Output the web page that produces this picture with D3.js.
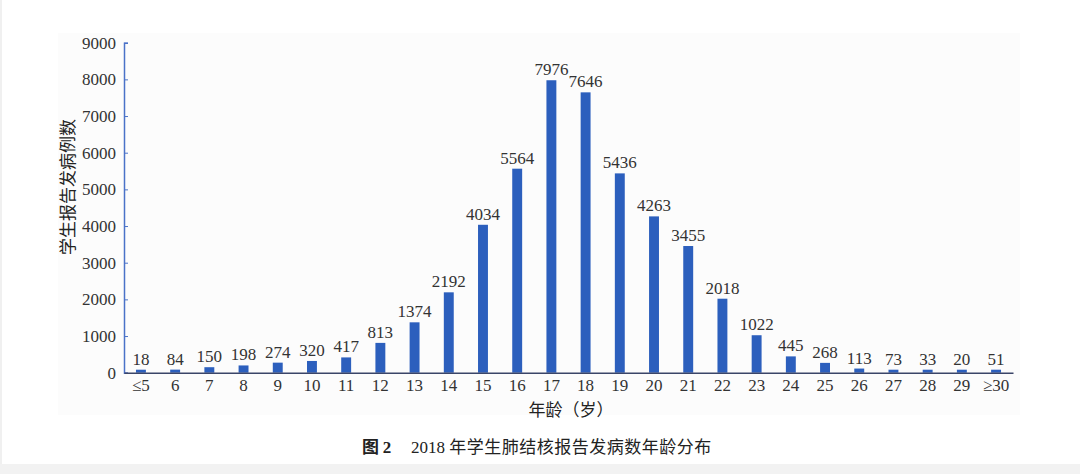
<!DOCTYPE html>
<html>
<head>
<meta charset="utf-8">
<script src="https://cdn.jsdelivr.net/npm/d3@7"></script>
<style>
  html, body { margin: 0; padding: 0; background: #fff; }
  svg { display: block; }
</style>
</head>
<body>
<div id="chart"></div>
<script>
// age groups and reported cases, 2018
const ages = ["≤5", "6", "7", "8", "9", "10", "11", "12", "13", "14", "15", "16", "17",
  "18", "19", "20", "21", "22", "23", "24", "25", "26", "27", "28", "29", "≥30"];
const cases = [18, 84, 150, 198, 274, 320, 417, 813, 1374, 2192, 4034, 5564, 7976,
  7646, 5436, 4263, 3455, 2018, 1022, 445, 268, 113, 73, 33, 20, 51];
const yTicks = [0, 1000, 2000, 3000, 4000, 5000, 6000, 7000, 8000, 9000];

const W = 1080, H = 474;
const SERIF = "'Liberation Serif', 'DejaVu Serif', serif";
const CJK = "'Noto Sans CJK SC', sans-serif";

const svg = d3.select("#chart")
  .append("svg")
  .attr("width", W)
  .attr("height", H);

// page backgrounds
svg.append("rect").attr("x", 58).attr("y", 33).attr("width", 962).attr("height", 382).attr("fill", "#fcfcfc");
svg.append("rect").attr("x", 0).attr("y", 0).attr("width", 2).attr("height", H).attr("fill", "#f0f0f0");
svg.append("rect").attr("x", 0).attr("y", 464).attr("width", W).attr("height", 10).attr("fill", "#f2f2f2");

let x = d3.scaleBand()
  .domain(ages)
  .range([124, 1013])
  .paddingInner(0.71)
  .paddingOuter(0.35);

let y = d3.scaleLinear()
  .domain([0, 9000])
  .range([372.7, 42.7]);

// bars (tiny values still show a sliver, as in the print)
svg.selectAll(".bar")
  .data(ages)
  .enter()
  .append("rect")
  .attr("class", "bar")
  .attr("x", (d) => x(d))
  .attr("width", x.bandwidth())
  .attr("y", (d, i) => Math.min(y(cases[i]), y(0) - 3))
  .attr("height", (d, i) => Math.max(y(0) - y(cases[i]), 3))
  .attr("fill", "#2c5fbd");

// value labels
svg.selectAll(".val")
  .data(ages)
  .enter()
  .append("text")
  .attr("class", "val")
  .attr("x", (d) => x(d) + x.bandwidth() / 2)
  .attr("y", (d, i) => Math.min(y(cases[i]), y(0) - 3) - 5)
  .attr("text-anchor", "middle")
  .attr("font-family", SERIF)
  .attr("font-size", 17)
  .attr("fill", "#333")
  .text((d, i) => cases[i]);

// y axis
let yAxis = svg.append("g")
  .attr("transform", "translate(124,0)")
  .call(d3.axisLeft(y).tickValues(yTicks).tickFormat(d3.format("d")).tickSize(-4).tickPadding(8));
yAxis.select(".domain").attr("stroke", "#4a72c8").attr("stroke-width", 1.5);
yAxis.selectAll(".tick line").attr("stroke", "#4a72c8");
yAxis.selectAll(".tick text")
  .attr("font-family", SERIF)
  .attr("font-size", 17)
  .attr("fill", "#333");

// x axis
let xAxis = svg.append("g")
  .attr("transform", "translate(0," + y(0) + ")")
  .call(d3.axisBottom(x).tickSize(0).tickPadding(6).tickSizeOuter(0));
xAxis.select(".domain").attr("stroke", "#3a4568").attr("stroke-width", 1.5);
xAxis.selectAll(".tick text")
  .attr("font-family", SERIF)
  .attr("font-size", 17)
  .attr("fill", "#333");

// axis titles
svg.append("text")
  .attr("transform", "translate(74,187) rotate(-90)")
  .attr("text-anchor", "middle")
  .attr("font-family", CJK)
  .attr("font-size", 17)
  .attr("fill", "#222")
  .text("学生报告发病例数");

svg.append("text")
  .attr("x", 571)
  .attr("y", 416)
  .attr("text-anchor", "middle")
  .attr("font-family", CJK)
  .attr("font-size", 17)
  .attr("fill", "#222")
  .text("年龄（岁）");

// caption
let cap = svg.append("text")
  .attr("x", 362)
  .attr("y", 453)
  .attr("font-size", 17)
  .attr("fill", "#222");
cap.append("tspan")
  .attr("font-family", CJK)
  .attr("font-weight", "bold")
  .text("图 ");
cap.append("tspan")
  .attr("font-family", SERIF)
  .attr("font-weight", "bold")
  .text("2");
cap.append("tspan")
  .attr("x", 411)
  .attr("font-family", SERIF)
  .text("2018 ");
cap.append("tspan")
  .attr("font-family", CJK)
  .attr("letter-spacing", 0.5)
  .text("年学生肺结核报告发病数年龄分布");
</script>
</body>
</html>
